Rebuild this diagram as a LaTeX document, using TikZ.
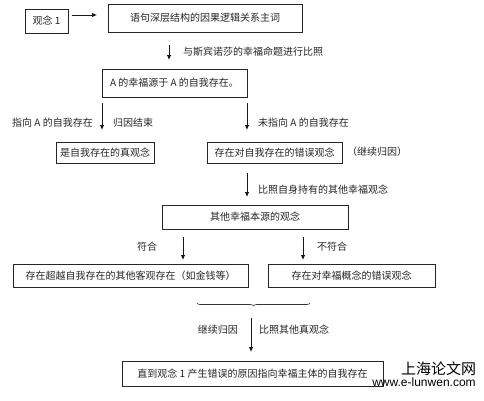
\documentclass[tikz,border=0pt]{standalone}
\usepackage{fontspec}
\setmainfont{Noto Sans CJK SC}
\newfontfamily\urlfont{Liberation Sans}
\usetikzlibrary{arrows.meta,decorations.pathreplacing}
\begin{document}
\begin{tikzpicture}[x=1pt,y=-1pt,
  txt/.style={font=\fontsize{10pt}{12pt}\selectfont, text=black!85, inner sep=0pt},
  box/.style={txt, draw=black!85, line width=0.8pt},
  arr/.style={draw=black!90, line width=0.8pt, -{Latex[length=5pt,width=4.5pt]}}]
\path[use as bounding box, fill=white] (0,0) rectangle (484,400);

\node[box, minimum width=43pt, minimum height=24pt] (b1) at (46.5,21) {观念 1};
\node[box, minimum width=194pt, minimum height=28pt] (b2) at (205,18) {语句深层结构的因果逻辑关系主词};
\coordinate (a1s) at (72,15); \coordinate (a1e) at (97,15);
\draw[arr] (a1s) -- (a1e);

\coordinate (a2s) at (169,45); \coordinate (a2e) at (169,60);
\draw[arr] (a2s) -- (a2e);
\node[txt, anchor=west] (l2) at (183,52) {与斯宾诺莎的幸福命题进行比照};

\node[box, minimum width=145pt, minimum height=28pt] (b3) at (174.5,83) {A 的幸福源于 A 的自我存在。};

\coordinate (a3s) at (102,103); \coordinate (a3e) at (102,130);
\draw[arr] (a3s) -- (a3e);
\node[txt, anchor=east] (l3a) at (93,123) {指向 A 的自我存在};
\node[txt, anchor=west] (l3b) at (113,123) {归因结束};

\coordinate (a4s) at (247,103); \coordinate (a4e) at (247,130);
\draw[arr] (a4s) -- (a4e);
\node[txt, anchor=west] (l4) at (258,123) {未指向 A 的自我存在};

\node[box, minimum width=98pt, minimum height=21pt] (b4) at (105,152.5) {是自我存在的真观念};
\node[box, minimum width=135pt, minimum height=21pt] (b5) at (274.5,152.5) {存在对自我存在的错误观念};
\node[txt, anchor=west] (l5) at (347,152) {（继续归因）};

\coordinate (a5s) at (247,173); \coordinate (a5e) at (247,197);
\draw[arr] (a5s) -- (a5e);
\node[txt, anchor=west] (l6) at (258,190) {比照自身持有的其他幸福观念};

\node[box, minimum width=186pt, minimum height=24pt] (b6) at (255,217) {其他幸福本源的观念};

\coordinate (a6s) at (183,237); \coordinate (a6e) at (183,260);
\draw[arr] (a6s) -- (a6e);
\node[txt] (l7) at (147,247) {符合};
\coordinate (a7s) at (303,237); \coordinate (a7e) at (303,260);
\draw[arr] (a7s) -- (a7e);
\node[txt, anchor=west] (l8) at (317,247) {不符合};

\node[box, minimum width=235pt, minimum height=23pt] (b7) at (130.5,275.5) {存在超越自我存在的其他客观存在（如金钱等）};
\node[box, minimum width=167pt, minimum height=23pt] (b8) at (351.5,275.5) {存在对幸福概念的错误观念};

\coordinate (brl) at (197,303); \coordinate (brr) at (310,303);
\draw[black!80, line width=0.6pt, decorate, decoration={brace, amplitude=3pt}] (brr) -- (brl);

\coordinate (a8s) at (251,318); \coordinate (a8e) at (251,352);
\draw[arr] (a8s) -- (a8e);
\node[txt, anchor=east] (l9) at (238,330) {继续归因};
\node[txt, anchor=west] (l10) at (259,330) {比照其他真观念};

\node[box, minimum width=261pt, minimum height=25pt] (b9) at (252.5,373.5) {直到观念 1 产生错误的原因指向幸福主体的自我存在};

\node[inner sep=0pt, font=\fontsize{15pt}{17pt}\selectfont] (wm1) at (438.5,369) {上海论文网};
\node[inner sep=0pt, font=\urlfont\fontsize{12pt}{14pt}\selectfont] (wm2) at (424,382) {www.e-lunwen.com};
\end{tikzpicture}
\end{document}
